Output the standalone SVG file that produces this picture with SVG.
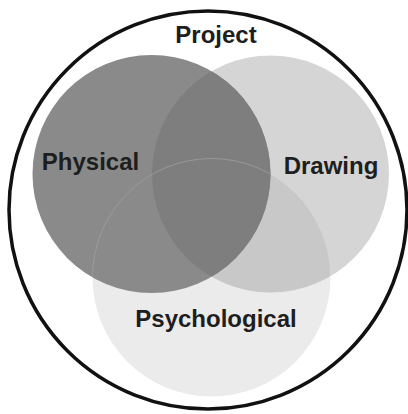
<svg xmlns="http://www.w3.org/2000/svg" width="408" height="414" viewBox="0 0 408 414">
  <style>
    .label { font-family: "Liberation Sans", Arial, sans-serif; font-weight: bold; font-size: 24px; fill: #1e1e1e; text-anchor: middle; }
    .frame { fill: #ffffff; stroke: #111111; stroke-width: 3.5; }
  </style>
  <defs>
    <clipPath id="clip-drawing"><circle cx="270.5" cy="174" r="118.5"/></clipPath>
    <clipPath id="clip-physical"><circle cx="151.5" cy="174" r="119"/></clipPath>
  </defs>
  <rect width="408" height="414" fill="#ffffff"/>

  <g id="project">
    <circle class="frame" cx="208" cy="210" r="199"/>
    <text class="label" x="216" y="43">Project</text>
  </g>

  <g id="drawing">
    <circle cx="270.5" cy="174" r="118.5" fill="#d5d5d5"/>
  </g>

  <g id="psychological">
    <circle cx="211.5" cy="277.5" r="119" fill="#ebebeb"/>
    <!-- overlap of drawing and psychological -->
    <circle cx="211.5" cy="277.5" r="119" fill="#c8c8c8" clip-path="url(#clip-drawing)"/>
  </g>

  <g id="physical">
    <circle cx="151.5" cy="174" r="119" fill="#8a8a8a"/>
    <!-- overlap of physical and drawing -->
    <circle cx="270.5" cy="174" r="118.5" fill="#7e7e7e" clip-path="url(#clip-physical)"/>
    <!-- faint rim of the psychological circle crossing the physical one -->
    <circle cx="211.5" cy="277.5" r="119" fill="none" stroke="#a0a0a0" stroke-width="0.8" clip-path="url(#clip-physical)"/>
  </g>

  <g id="labels">
    <text class="label" x="90.5" y="170">Physical</text>
    <text class="label" x="331" y="174">Drawing</text>
    <text class="label" x="216" y="327">Psychological</text>
  </g>
</svg>
